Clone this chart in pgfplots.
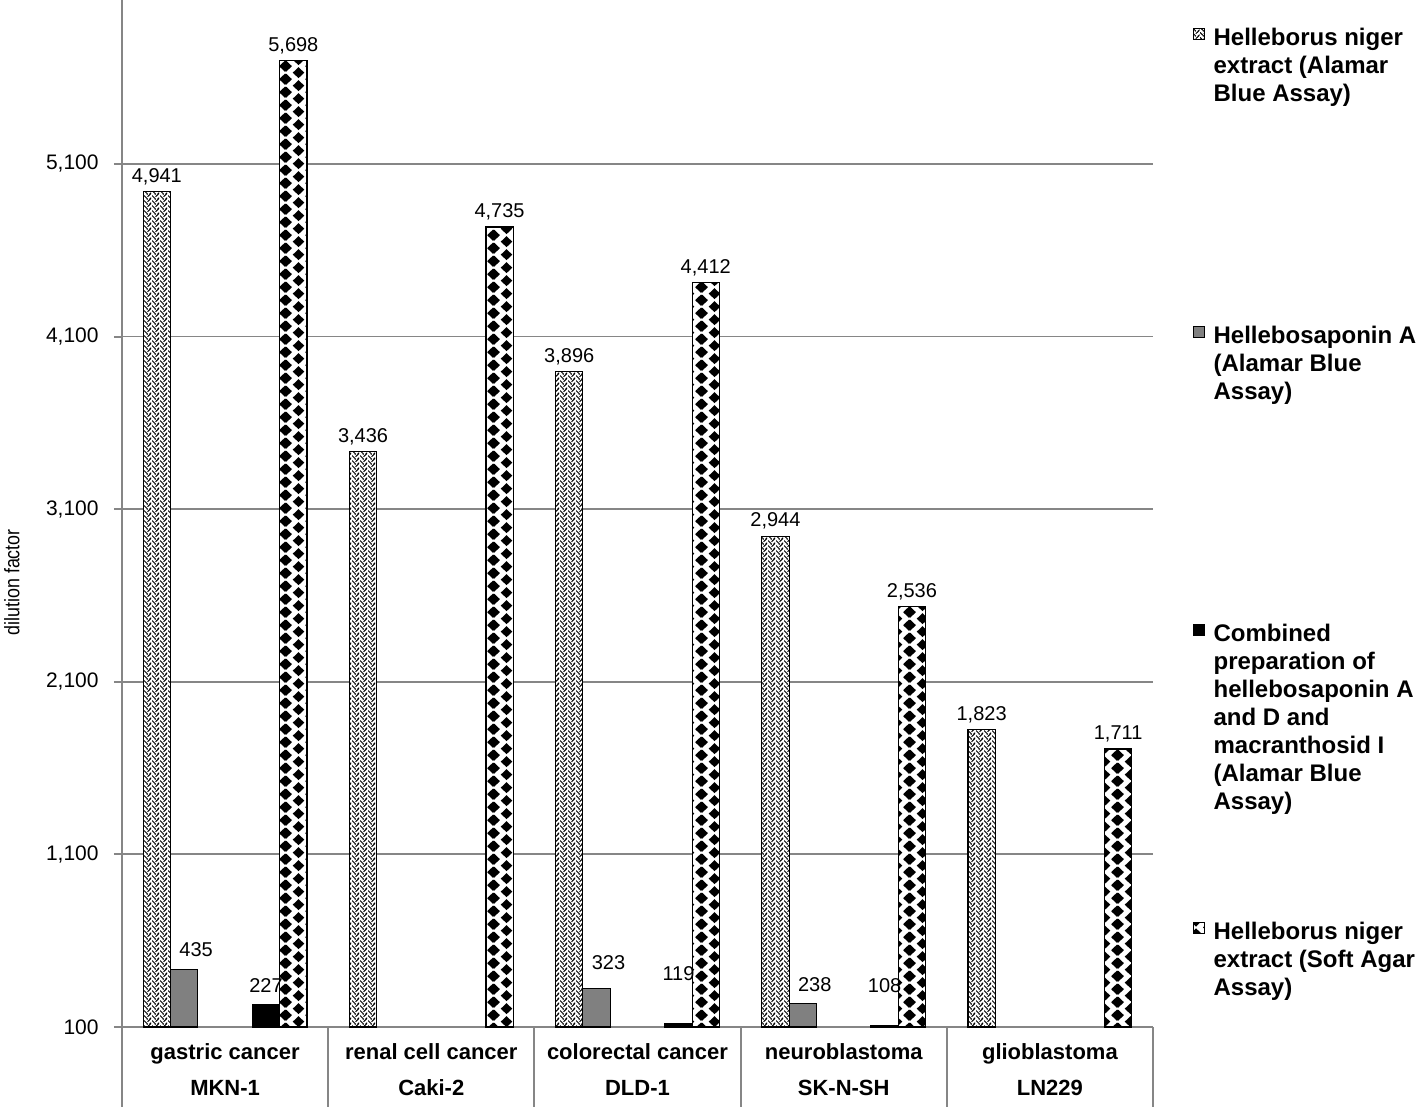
\documentclass[border=0pt]{standalone}
\usepackage{fontspec}
\setmainfont{Liberation Sans}
\newfontfamily\narrowfont[FakeStretch=0.85]{Liberation Sans}
\usepackage{pgfplots}
\pgfplotsset{compat=1.18}
\usetikzlibrary{patterns}
\definecolor{axisgray}{RGB}{134,134,134}
\definecolor{bargray}{RGB}{128,128,128}

\pgfdeclarepatternformonly{hdiamonds}{\pgfpoint{0pt}{0pt}}{\pgfpoint{13pt}{6.65pt}}{\pgfpoint{13pt}{6.65pt}}{%
  \pgfpathmoveto{\pgfpoint{6.5pt}{0.45pt}}%
  \pgfpathlineto{\pgfpoint{9.5pt}{3.325pt}}%
  \pgfpathlineto{\pgfpoint{6.5pt}{6.2pt}}%
  \pgfpathlineto{\pgfpoint{3.5pt}{3.325pt}}%
  \pgfpathclose
  \pgfpathmoveto{\pgfpoint{0pt}{-2.875pt}}\pgfpathlineto{\pgfpoint{3pt}{0pt}}\pgfpathlineto{\pgfpoint{0pt}{2.875pt}}\pgfpathlineto{\pgfpoint{-3pt}{0pt}}\pgfpathclose
  \pgfpathmoveto{\pgfpoint{13pt}{-2.875pt}}\pgfpathlineto{\pgfpoint{16pt}{0pt}}\pgfpathlineto{\pgfpoint{13pt}{2.875pt}}\pgfpathlineto{\pgfpoint{10pt}{0pt}}\pgfpathclose
  \pgfpathmoveto{\pgfpoint{0pt}{3.775pt}}\pgfpathlineto{\pgfpoint{3pt}{6.65pt}}\pgfpathlineto{\pgfpoint{0pt}{9.525pt}}\pgfpathlineto{\pgfpoint{-3pt}{6.65pt}}\pgfpathclose
  \pgfpathmoveto{\pgfpoint{13pt}{3.775pt}}\pgfpathlineto{\pgfpoint{16pt}{6.65pt}}\pgfpathlineto{\pgfpoint{13pt}{9.525pt}}\pgfpathlineto{\pgfpoint{10pt}{6.65pt}}\pgfpathclose
  \pgfusepath{fill}}

\pgfdeclarepatternformonly{herring}{\pgfpoint{0pt}{0pt}}{\pgfpoint{4pt}{2.6pt}}{\pgfpoint{4pt}{2.6pt}}{%
  \pgfsetlinewidth{0.55pt}%
  \pgfpathmoveto{\pgfpoint{0pt}{-0.6pt}}\pgfpathlineto{\pgfpoint{2pt}{-2.6pt}}%
  \pgfpathmoveto{\pgfpoint{0pt}{2pt}}\pgfpathlineto{\pgfpoint{2pt}{0pt}}%
  \pgfpathmoveto{\pgfpoint{0pt}{4.6pt}}\pgfpathlineto{\pgfpoint{2pt}{2.6pt}}%
  \pgfpathmoveto{\pgfpoint{2pt}{-1.3pt}}\pgfpathlineto{\pgfpoint{4pt}{0.7pt}}%
  \pgfpathmoveto{\pgfpoint{2pt}{1.3pt}}\pgfpathlineto{\pgfpoint{4pt}{3.3pt}}%
  \pgfpathmoveto{\pgfpoint{2pt}{-3.9pt}}\pgfpathlineto{\pgfpoint{4pt}{-1.9pt}}%
  \pgfusepath{stroke}}

\begin{document}
\begin{tikzpicture}
\useasboundingbox (-61pt,-40pt) rectangle (648pt,513.5pt);
\begin{axis}[
  at={(0,0)}, anchor=south west,
  scale only axis, width=515.5pt, height=513.5pt,
  xmin=-0.5, xmax=4.5, ymin=100, ymax=6050,
  ybar, bar width=13.65pt,
  axis x line*=bottom, axis y line*=left,
  axis line style={draw=axisgray, line width=1pt, -},
  ytick={100,1100,2100,3100,4100,5100},
  ymajorgrids, major grid style={draw=axisgray, line width=0.9pt},
  tick align=outside, major tick length=4pt,
  tick style={draw=axisgray, line width=1pt},
  xtick={0,1,2,3,4},
  xticklabels={{gastric cancer\\MKN-1},{renal cell cancer\\Caki-2},{colorectal cancer\\DLD-1},{neuroblastoma\\SK-N-SH},{glioblastoma\\LN229}},
  xtick style={draw=none},
  extra x ticks={-0.5,0.5,1.5,2.5,3.5,4.5},
  extra x tick labels={},
  extra x tick style={major tick length=40pt, xtick style={draw=axisgray, line width=1pt}},
  xticklabel style={font=\bfseries\fontsize{11}{18}\selectfont, align=center, anchor=north, inner sep=0pt, yshift=-4pt},
  yticklabel style={font=\fontsize{10.5}{12}\selectfont, inner sep=0pt, xshift=-7.5pt},
  /pgf/number format/assume math mode=true,
  /pgf/number format/1000 sep={,},
  ylabel={dilution factor},
  ylabel style={font=\narrowfont\fontsize{10.5}{12}\selectfont, at={(axis description cs:-0.1067,0.433)}, anchor=center},
  nodes near coords,
  nodes near coords style={font=\fontsize{10}{12}\selectfont, anchor=south, inner sep=0pt, yshift=3pt},
  legend style={at={(1.0384,0.9731)}, anchor=north west, draw=none, fill=none,
    inner xsep=0pt, inner ysep=0pt, outer sep=0pt, row sep=0pt, column sep=4.3pt,
    nodes={inner sep=0pt, text depth=, text height=, font=\bfseries\fontsize{12}{14}\selectfont},
    cells={anchor=base west}},
  legend image code/.code={\draw[#1] (0pt,2.8pt) rectangle (5.6pt,8.4pt);},
]
\addplot[draw=black, line width=0.6pt, fill=white, postaction={pattern=herring}, bar shift=-34.125pt]
  coordinates {(0,4941) (1,3436) (2,3896) (3,2944) (4,1823)};
\addlegendentry{\parbox[t][149pt][t]{110pt}{Helleborus niger\\extract (Alamar\\Blue Assay)}}
\addplot[draw=black, line width=0.6pt, fill=bargray, bar shift=-20.475pt,
  visualization depends on={value \thisrow{dy}\as\labdy},
  every node near coord/.append style={xshift=6pt, yshift=\labdy}]
  table[x=x, y=y] {
x y dy
0 435 3.0
2 323 6.0
3 238 2.5
};
\addlegendentry{\parbox[t][149pt][t]{110pt}{Hellebosaponin A\\(Alamar Blue\\Assay)}}
\addplot[draw=black, line width=0.6pt, fill=black, bar shift=20.475pt,
  visualization depends on={value \thisrow{dy}\as\labdy},
  every node near coord/.append style={yshift=\labdy}]
  table[x=x, y=y] {
x y dy
0 227 3.0
2 119 18.0
3 108 13.0
};
\addlegendentry{\parbox[t][149pt][t]{110pt}{Combined\\preparation of\\hellebosaponin A\\and D and\\macranthosid I\\(Alamar Blue\\Assay)}}
\addplot[draw=black, line width=0.6pt, fill=white, postaction={pattern=hdiamonds}, bar shift=34.125pt]
  coordinates {(0,5698) (1,4735) (2,4412) (3,2536) (4,1711)};
\addlegendentry{\parbox[t][149pt][t]{110pt}{Helleborus niger\\extract (Soft Agar\\Assay)}}
\end{axis}
\end{tikzpicture}
\end{document}
